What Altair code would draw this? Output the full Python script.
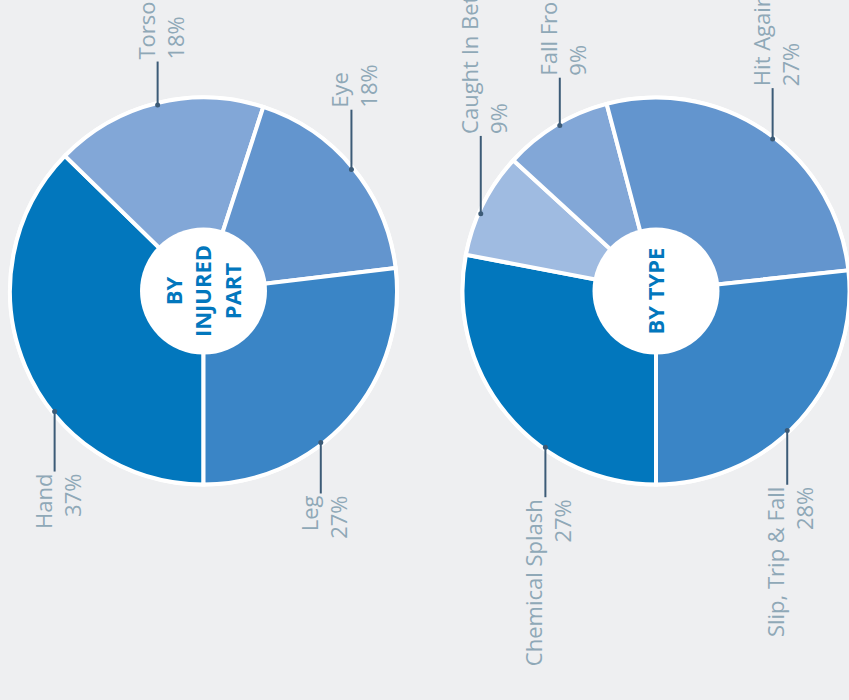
import math
import altair as alt
import pandas as pd

# ---------------- data ----------------
part_names = ["Hand", "Torso", "Eye", "Leg"]
part_values = [37.3, 17.7, 18.1, 26.9]
part_pct_labels = ["37%", "18%", "18%", "27%"]

type_names = ["Chemical Splash", "Caught In Between", "Fall From Height",
              "Hit Against Object", "Slip, Trip & Fall"]
type_values = [28.0, 8.8, 9.1, 27.4, 26.7]
type_pct_labels = ["27%", "9%", "9%", "27%", "28%"]

group_keys = ["part", "type"]
group_titles = ["BY\nINJURED\nPART", "BY TYPE"]

# ---------------- layout / style ----------------
# where along each slice (0 = start, 1 = end) its leader line attaches
part_anchor_frac = [0.38, 0.5, 0.5, 0.61]
type_anchor_frac = [0.35, 0.41, 0.53, 0.53, 0.55]

W, H = 849, 700
CX_PART, CX_TYPE = 203.5, 656.0
CY = 291.0
R_OUT = 193.5      # slice outer radius (stroke makes visible edge ~191.5)
R_EDGE = 191.5     # leader dot radius
R_RING = 195.5     # white outer ring
R_HOLE = 63.5      # white centre disk
R_LABEL = 234.0    # leader lines end on this circle
TITLE_LH = 29.5

BG = "#EEEFF1"
LABEL_COLOR = "#8FA8B7"
LEADER_COLOR = "#3C5B77"
TITLE_COLOR = "#0277BD"
FONT = "Open Sans"

color_domain = part_names + type_names
color_range = ["#0277BD", "#82A7D7", "#6395CE", "#3A85C6",
               "#0277BD", "#9FBBE1", "#82A7D7", "#6395CE", "#3A85C6"]

rows = []
for i, (n, v, p, f) in enumerate(zip(part_names, part_values, part_pct_labels, part_anchor_frac)):
    rows.append({"group": "part", "name": n, "value": v, "pct": p, "order": i, "frac": f})
for i, (n, v, p, f) in enumerate(zip(type_names, type_values, type_pct_labels, type_anchor_frac)):
    rows.append({"group": "type", "name": n, "value": v, "pct": p, "order": i, "frac": f})
slices = pd.DataFrame(rows)
groups = pd.DataFrame({"group": group_keys, "title": group_titles})

cx_expr = f"datum.group == 'part' ? {CX_PART} : {CX_TYPE}"

xs = alt.Scale(domain=[0, W], nice=False, zero=False)
ys = alt.Scale(domain=[0, H], nice=False, zero=False, reverse=True)


def X(f):
    return alt.X(f, type="quantitative", scale=xs, axis=None)


def Y(f):
    return alt.Y(f, type="quantitative", scale=ys, axis=None)


base = (
    alt.Chart(slices)
    .transform_window(cum="sum(value)", groupby=["group"],
                      sort=[alt.SortField("order", order="ascending")],
                      frame=[None, 0])
    .transform_joinaggregate(total="sum(value)", groupby=["group"])
    .transform_calculate(s="100 * (datum.cum - datum.value) / datum.total")
    .transform_calculate(e="100 * datum.cum / datum.total")
    .transform_calculate(cx=cx_expr)
    .transform_calculate(cy=str(CY))
    .transform_calculate(mid="PI + 2 * PI * (datum.s + datum.frac * (datum.e - datum.s)) / 100")
    .transform_calculate(sn="sin(datum.mid)")
    .transform_calculate(cs="cos(datum.mid)")
    .transform_calculate(ax=f"datum.cx + {R_EDGE} * datum.sn")
    .transform_calculate(ay=f"datum.cy - {R_EDGE} * datum.cs")
    .transform_calculate(
        ey=f"datum.cy + (datum.cs > 0 ? -1 : 1) * sqrt({R_LABEL}*{R_LABEL} - pow({R_EDGE} * datum.sn, 2))")
    .transform_calculate(txt="datum.name + '\\n' + datum.pct")
)

gbase = (
    alt.Chart(groups)
    .transform_calculate(cx=cx_expr)
    .transform_calculate(cy=str(CY))
    .transform_calculate(nl="split(datum.title, '\\n').length")
    .transform_calculate(tx=f"datum.cx - (datum.nl - 1) * {TITLE_LH} / 2")
)

ring = gbase.mark_circle(size=(2 * R_RING) ** 2, color="white", opacity=1).encode(
    x=X("cx"), y=Y("cy"))

arcs = base.mark_arc(outerRadius=R_OUT, innerRadius=0, stroke="white", strokeWidth=4).encode(
    theta=alt.Theta("s:Q", scale=alt.Scale(domain=[0, 100], range=[math.pi, 3 * math.pi]), stack=None),
    theta2="e:Q",
    x=X("cx"), y=Y("cy"),
    color=alt.Color("name:N", scale=alt.Scale(domain=color_domain, range=color_range), legend=None),
)

hole = gbase.mark_circle(size=(2 * R_HOLE) ** 2, color="white", opacity=1).encode(
    x=X("cx"), y=Y("cy"))

titles = gbase.mark_text(angle=270, font=FONT, fontSize=22, fontWeight="bold", color=TITLE_COLOR,
                         align="center", baseline="middle", lineBreak="\n", lineHeight=TITLE_LH,
                         dy=0.5).encode(x=X("tx"), y=Y("cy"), text="title:N")

leaders = base.mark_rule(color=LEADER_COLOR, strokeWidth=2).encode(
    x=X("ax"), y=Y("ay"), y2="ey:Q")

dots = base.mark_circle(size=25, color=LEADER_COLOR, opacity=1).encode(x=X("ax"), y=Y("ay"))

top_labels = base.transform_filter("datum.cs > 0").mark_text(
    angle=270, font=FONT, fontSize=22, color=LABEL_COLOR, align="left", baseline="alphabetic",
    lineBreak="\n", lineHeight=29, dx=2, dy=-3).encode(x=X("ax"), y=Y("ey"), text="txt:N")

bottom_labels = base.transform_filter("datum.cs <= 0").mark_text(
    angle=270, font=FONT, fontSize=22, color=LABEL_COLOR, align="right", baseline="alphabetic",
    lineBreak="\n", lineHeight=29, dx=-2, dy=-3).encode(x=X("ax"), y=Y("ey"), text="txt:N")

chart = alt.layer(ring, arcs, hole, titles, leaders, dots, top_labels, bottom_labels).properties(
    width=W, height=H, padding=0, background=BG,
    autosize=alt.AutoSizeParams(type="none"),
).configure_view(stroke=None)

chart.save("out.html", embed_options={"renderer": "svg", "actions": False})
